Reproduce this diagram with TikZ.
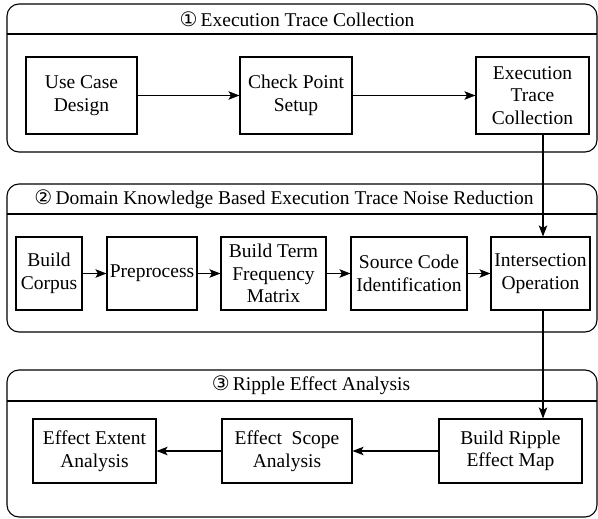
\documentclass[tikz,border=0pt]{standalone}
\usepackage{fontspec}
\setmainfont{LiberationSerif}[Extension=.ttf, UprightFont=*-Regular]
\newfontfamily\circfont{DejaVu Sans}
\usetikzlibrary{arrows.meta,positioning}
\newcommand{\boxfont}{\fontsize{19.5}{22.5}\selectfont}
\newcommand{\stagenum}[1]{{\circfont\fontsize{20}{20}\selectfont #1}\,}

\begin{document}
\begin{tikzpicture}[x=1pt, y=-1pt, line width=1.1pt, font=\boxfont,
    stage/.style={draw, rounded corners=12pt},
    task/.style={draw, rectangle, align=center, inner sep=0pt},
    flow/.style={-{Stealth[length=11pt,width=8.5pt,inset=2.5pt]}}]
        \useasboundingbox (0,0) rectangle (598,519);
        %stages
        \draw[stage] (7,4) rectangle (597,152);
        \draw (7,34) -- (597,34);
        \draw[stage] (7,184) rectangle (597,332);
        \draw (7,214) -- (597,214);
        \draw[stage] (7,370) rectangle (597,517);
        \draw (7,401) -- (597,401);
        \node (title1) at (297,19) {\stagenum{①}Execution Trace Collection};
        \node (title2) at (284,199) {\stagenum{②}Domain Knowledge Based Execution Trace Noise Reduction};
        \node (title3) at (311,385.5) {\stagenum{③}Ripple Effect Analysis};
        %nodes
        \node[task, minimum width=111pt, minimum height=77pt] (usecase) at (81.5,95.5) {Use Case\\Design};
        \node[task, minimum width=112pt, minimum height=77pt] (checkpoint) at (296,95.5) {Check Point\\Setup};
        \node[task, minimum width=113pt, minimum height=77pt] (collect) at (532.5,95.5) {Execution\\Trace\\Collection};
        \node[task, minimum width=66pt, minimum height=73pt] (corpus) at (49,273.5) {Build\\Corpus};
        \node[task, minimum width=90pt, minimum height=73pt] (prep) at (152,273.5) {Preprocess};
        \node[task, minimum width=105pt, minimum height=73pt] (matrix) at (273.5,273.5) {Build Term\\Frequency\\Matrix};
        \node[task, minimum width=116pt, minimum height=73pt] (source) at (409,273.5) {Source Code\\Identification};
        \node[task, minimum width=99pt, minimum height=73pt] (inter) at (540.5,273.5) {Intersection\\Operation};
        \node[task, minimum width=123pt, minimum height=64pt] (extent) at (94.5,451) {Effect Extent\\Analysis};
        \node[task, minimum width=130pt, minimum height=64pt] (scope) at (287,451) {Effect\ \ Scope\\Analysis};
        \node[task, minimum width=143pt, minimum height=64pt] (ripple) at (510.5,451) {Build Ripple\\Effect Map};
        \coordinate (down) at (543,0);
        %edges
        \draw[flow] (usecase) -- (checkpoint);
        \draw[flow] (checkpoint) -- (collect);
        \draw[flow] (collect.south -| down) -- (inter.north -| down);
        \draw[flow] (corpus) -- (prep);
        \draw[flow] (prep) -- (matrix);
        \draw[flow] (matrix) -- (source);
        \draw[flow] (source) -- (inter);
        \draw[flow] (inter.south -| down) -- (ripple.north -| down);
        \draw[flow] (ripple) -- (scope);
        \draw[flow] (scope) -- (extent);
      \end{tikzpicture}
\end{document}
